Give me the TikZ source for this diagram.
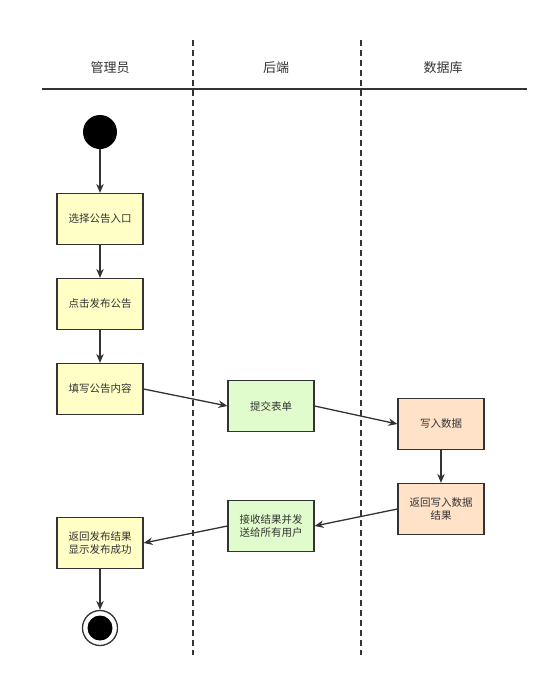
\documentclass[tikz,border=0pt]{standalone}
\usepackage{fontspec}
\setmainfont{Noto Sans CJK SC}
\usetikzlibrary{arrows.meta}

\definecolor{linegray}{HTML}{333333}
\definecolor{adminfill}{HTML}{FFFFC6}
\definecolor{backfill}{HTML}{E0FCCC}
\definecolor{dbfill}{HTML}{FFE2C8}

\tikzset{
 act/.style={draw=linegray, line width=1.2pt, minimum width=86pt, minimum height=51pt,
   inner sep=2pt, align=center, text=linegray, font=\fontsize{10.5}{13.5}\selectfont},
 admin/.style={act, fill=adminfill},
 back/.style={act, fill=backfill},
 db/.style={act, fill=dbfill},
 lane/.style={text=linegray, font=\fontsize{13}{15}\selectfont},
 flow/.style={-{Stealth[length=9pt,width=7.5pt]}, draw=linegray, line width=1.3pt},
}

\begin{document}
\begin{tikzpicture}[x=1pt, y=-1pt]
 \useasboundingbox (0,0) rectangle (554,681);

 % swimlanes
 \draw [linegray, line width=1.2pt] (42,89) -- (527,89);
 \draw [linegray, line width=1.2pt, dash pattern=on 6pt off 4pt] (193,40) -- (193,655);
 \draw [linegray, line width=1.2pt, dash pattern=on 6pt off 4pt] (361,40) -- (361,655);

 \node [lane] (admin) at (110,68) {管理员};
 \node [lane] (server) at (276,68) {后端};
 \node [lane] (database) at (443,68) {数据库};

 \node [circle, fill=black, minimum size=34pt, inner sep=0pt] (start) at (100,132) {};

 \node [admin] (select) at (100,219) {选择公告入口};
 \node [admin] (click) at (100,304) {点击发布公告};
 \node [admin] (fill) at (100,389) {填写公告内容};
 \node [back] (submit) at (271,406) {提交表单};
 \node [db] (write) at (441,424) {写入数据};
 \node [db] (result) at (441,509) {返回写入数据\\结果};
 \node [back] (notify) at (271,526) {接收结果并发\\送给所有用户};
 \node [admin] (show) at (100,543) {返回发布结果\\显示发布成功};

 \node [circle, draw=linegray, line width=1.3pt, fill=white, minimum size=35pt, inner sep=0pt] (end) at (100,628) {};
 \node [circle, fill=black, minimum size=25pt, inner sep=0pt] (endin) at (end) {};

 \draw [flow] (start) -- (select);
 \draw [flow] (select) -- (click);
 \draw [flow] (click) -- (fill);
 \draw [flow] (fill.east) -- (submit.west);
 \draw [flow] (submit.east) -- (write.west);
 \draw [flow] (write) -- (result);
 \draw [flow] (result.west) -- (notify.east);
 \draw [flow] (notify.west) -- (show.east);
 \draw [flow] (show) -- (end);

\end{tikzpicture}
\end{document}
